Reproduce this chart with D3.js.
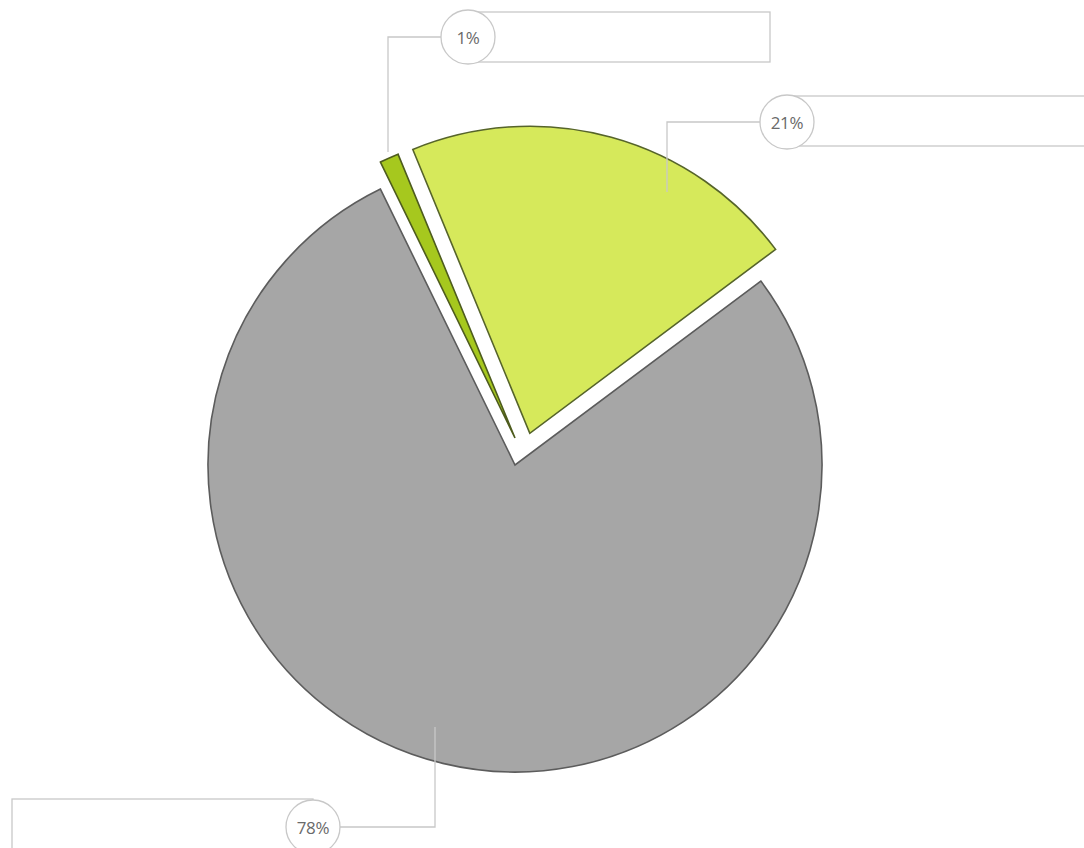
<!DOCTYPE html>
<html>
<head>
<meta charset="utf-8">
<script src="https://cdn.jsdelivr.net/npm/d3@7"></script>
<style>
  html, body { margin: 0; padding: 0; background: #ffffff; }
  svg { display: block; }
</style>
</head>
<body>
<svg id="chart" width="1084" height="848"></svg>
<script>
// ---- data ----
const categories = ["Segment A", "Segment B", "Segment C"];
const values = [78, 1, 21];
const valueLabels = ["78%", "1%", "21%"];

// ---- styles ----
const fillColors = ["#a6a6a6", "#a6c81e", "#d6e95b"];
const strokeColors = ["#5c5c5c", "#4e5c1e", "#56642a"];
const explodeDist = [0, 27, 35];        // px
const explodeAngleDeg = [0, 0, 25];     // direction of the pull-out

// ---- layout of call-outs (annotation boxes) ----
const calloutCircle = [[313, 827], [468, 37], [787, 122]];
const calloutBox = [[12, 799, 313, 852], [468, 12, 770, 62], [787, 96, 1100, 146]];
const calloutElbow = [[435, 827, 435, 727], [388, 37, 388, 152], [667, 122, 667, 192]];

const W = 1084, H = 848;
const cx = 515, cy = 465, R = 307;
const svg = d3.select("#chart");
const deg = Math.PI / 180;

const pie = d3.pie().sort(null).value(d => d.value)
  .startAngle(53.2 * deg).endAngle((53.2 + 360) * deg);
const arc = d3.arc().innerRadius(0).outerRadius(R);

const data = categories.map((c, i) => ({ cat: c, value: values[i], label: valueLabels[i], i }));
const arcs = pie(data);

const g = svg.append("g").attr("transform", `translate(${cx},${cy})`);
g.selectAll("path.slice").data(arcs).join("path")
  .attr("class", "slice")
  .attr("d", arc)
  .attr("fill", d => fillColors[d.data.i])
  .attr("stroke", d => strokeColors[d.data.i])
  .attr("stroke-width", 1.6)
  .attr("stroke-linejoin", "miter")
  .attr("transform", d => {
    const a = explodeAngleDeg[d.data.i] * deg, r = explodeDist[d.data.i];
    return `translate(${Math.sin(a) * r},${-Math.cos(a) * r})`;
  });

// ---- call-outs ----
const lineColor = "#c8c8c8";
const co = svg.append("g");
data.forEach((d, i) => {
  const [x0, y0, x1, y1] = calloutBox[i];
  co.append("rect").attr("x", x0).attr("y", y0)
    .attr("width", x1 - x0).attr("height", y1 - y0)
    .attr("fill", "none").attr("stroke", lineColor).attr("stroke-width", 1.3);
  const [ccx, ccy] = calloutCircle[i];
  const [ex, ey, ex2, ey2] = calloutElbow[i];
  co.append("path")
    .attr("d", `M${ccx},${ccy}L${ex},${ey}L${ex2},${ey2}`)
    .attr("fill", "none").attr("stroke", lineColor).attr("stroke-width", 1.3);
  co.append("circle").attr("cx", ccx).attr("cy", ccy).attr("r", 27)
    .attr("fill", "#ffffff").attr("stroke", lineColor).attr("stroke-width", 1.3);
  co.append("text").attr("x", ccx).attr("y", ccy)
    .attr("text-anchor", "middle").attr("dominant-baseline", "central")
    .attr("font-family", "'Open Sans', 'Noto Sans', sans-serif")
    .attr("font-size", 17).attr("fill", "#6a6a6a")
    .attr("letter-spacing", -0.3)
    .text(d.label);
});
</script>
</body>
</html>
